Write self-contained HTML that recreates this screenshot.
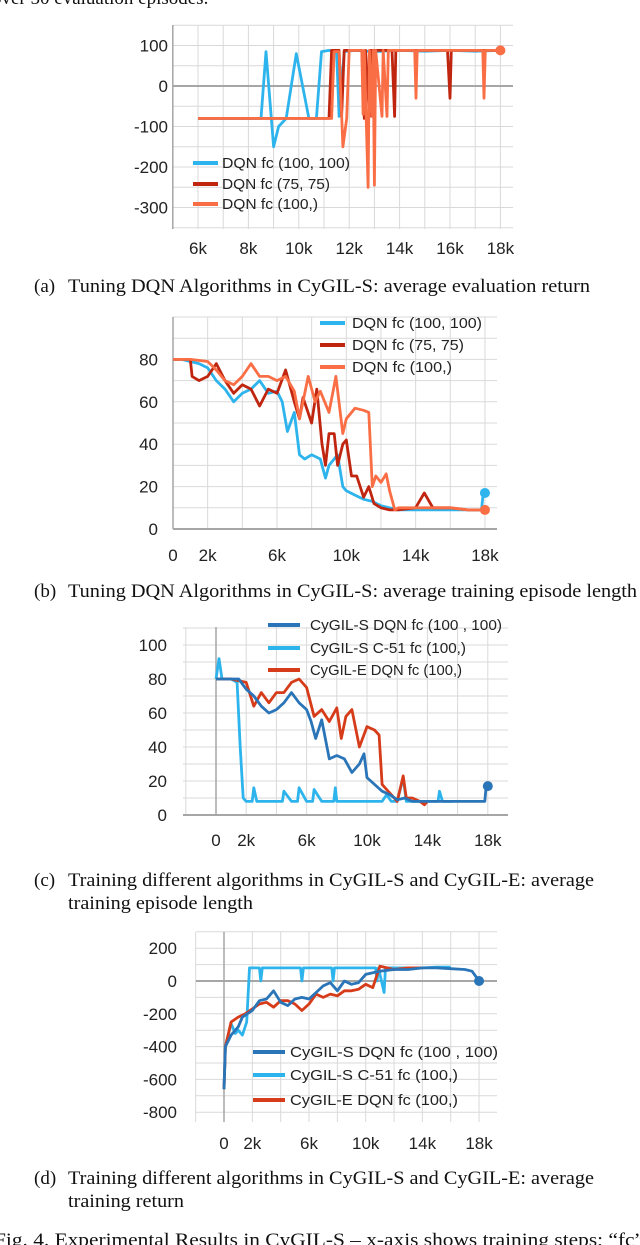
<!DOCTYPE html>
<html><head><meta charset="utf-8">
<style>
html,body{margin:0;padding:0;background:#fff;}
svg{display:block;}
.cap{font-family:"Liberation Serif",serif;font-size:19px;fill:#111;}
.tick{font-family:"Liberation Sans",sans-serif;font-size:17px;fill:#222;}
.leg{font-family:"Liberation Sans",sans-serif;font-size:14.5px;fill:#222;}
</style></head>
<body>
<svg id="fig" width="640" height="1245" viewBox="0 0 640 1245" xmlns="http://www.w3.org/2000/svg">
<text class="cap" x="-8" y="4">over 50 evaluation episodes.</text>
<text class="cap" x="34" y="292">(a)</text>
<text class="cap" x="68" y="292" textLength="522" lengthAdjust="spacingAndGlyphs">Tuning DQN Algorithms in CyGIL-S: average evaluation return</text>
<text class="cap" x="34" y="597">(b)</text>
<text class="cap" x="68" y="597" textLength="569" lengthAdjust="spacingAndGlyphs">Tuning DQN Algorithms in CyGIL-S: average training episode length</text>
<text class="cap" x="34" y="886">(c)</text>
<text class="cap" x="68" y="886" textLength="526" lengthAdjust="spacingAndGlyphs">Training different algorithms in CyGIL-S and CyGIL-E: average</text>
<text class="cap" x="68" y="909" textLength="185" lengthAdjust="spacingAndGlyphs">training episode length</text>
<text class="cap" x="34" y="1184">(d)</text>
<text class="cap" x="68" y="1184" textLength="526" lengthAdjust="spacingAndGlyphs">Training different algorithms in CyGIL-S and CyGIL-E: average</text>
<text class="cap" x="68" y="1207" textLength="116" lengthAdjust="spacingAndGlyphs">training return</text>
<text class="cap" x="-6" y="1246" textLength="650" lengthAdjust="spacingAndGlyphs">Fig. 4.   Experimental Results in CyGIL-S – x-axis shows training steps; “fc”</text>
</svg>
<script>
// ---- Chart (a) data ----
const aBlueX=[6,8.5,8.7,9.0,9.2,9.5,9.9,10.4,10.7,10.9,11.2,11.5,11.6,11.8,12.2,13,14,15,16,17,18];
const aBlueY=[-80,-80,85,-150,-100,-80,80,-80,-80,85,88,85,-75,85,88,85,88,86,88,86,88];
const aRedX=[6,11.2,11.3,11.6,11.7,11.8,12.5,12.6,12.65,12.8,12.85,13.7,13.8,13.85,15.9,16.0,16.05,18];
const aRedY=[-80,-80,88,88,-75,88,88,-80,88,-75,88,88,-75,88,88,-30,88,88];
const aOrX=[6,11.3,11.4,11.6,11.75,11.9,12.0,12.5,12.55,12.6,12.75,12.8,12.9,12.95,13.0,13.05,13.3,13.35,13.5,13.55,14.6,14.65,14.7,17.3,17.35,17.4,18];
const aOrY=[-80,-80,85,85,-150,-80,88,88,-70,88,-250,88,-75,88,-245,88,-75,88,-75,88,88,-30,88,88,-30,88,88];
const aXTicks=[6,8,10,12,14,16,18];
const aXLabels=["6k","8k","10k","12k","14k","16k","18k"];
const aYTicks=[100,0,-100,-200,-300];
// ---- Chart (b) data ----
const bBlueX=[0,0.5,1,1.5,2,2.5,3,3.5,4,4.5,5,5.5,6,6.3,6.6,7,7.3,7.6,8,8.5,8.8,9,9.5,9.8,10,10.5,11,11.5,12,12.5,13,14,15,16,17,17.8,17.9,18];
const bBlueY=[80,80,79,78,76,70,66,60,64,66,70,64,65,60,46,55,35,33,35,33,24,30,35,20,18,16,14,13,11,10,9,9,9,9,9,9,17,17];
const bRedX=[0,1,1.1,1.5,2,2.5,3,3.5,4,4.5,5,5.5,6,6.5,7,7.3,7.5,8,8.3,8.6,8.8,9,9.3,9.5,9.8,10,10.3,10.6,11,11.3,11.6,12,12.5,13,14,14.5,15,16,17,18];
const bRedY=[80,80,72,70,72,78,70,64,68,66,58,66,64,75,60,52,62,50,66,40,30,45,45,30,40,42,25,25,15,20,12,10,9,9,10,17,10,10,9,9];
const bOrX=[0,1,2,2.5,3,3.5,4,4.5,5,5.5,6,6.5,7,7.3,7.8,8.2,8.5,9,9.4,9.8,10,10.5,11,11.3,11.5,11.7,12,12.3,12.5,12.8,13,14,15,16,17,18];
const bOrY=[80,80,79,75,70,68,72,78,72,72,70,72,65,52,72,60,65,55,72,45,52,57,56,55,20,25,22,26,18,9,10,10,10,10,9,9];
const bXTicks=[0,2,6,10,14,18];
const bXLabels=["0","2k","6k","10k","14k","18k"];
const bYTicks=[80,60,40,20,0];
// ---- Chart (c) data ----
const cDkX=[0,1,1.5,2,2.5,3,3.5,4,4.5,5,5.5,6,6.3,6.6,7,7.5,8,8.5,9,9.5,9.8,10,10.5,11,11.5,12,12.5,13,14,15,16,17,17.8,17.9,18];
const cDkY=[80,80,80,74,70,64,60,62,66,72,66,62,55,45,56,33,35,33,25,30,36,22,18,14,12,9,10,8,8,8,8,8,8,18,17];
const cLtX=[0,0.2,0.4,1,1.4,1.6,1.8,2,2.4,2.5,2.7,3,4,4.4,4.5,5,5.4,5.5,6,6.4,6.5,7,7.8,7.9,8,9,10,11,11.3,11.6,12,12.4,12.6,13,14,14.7,14.8,15,15.7];
const cLtY=[80,92,80,80,78,40,10,8,8,16,8,8,8,8,14,8,8,16,8,8,15,8,8,16,8,8,8,8,12,8,8,22,8,8,8,8,14,8,8];
const cRdX=[0,1,2,2.5,3,3.5,4,4.5,5,5.5,6,6.5,7,7.5,8,8.3,8.6,9,9.5,10,10.5,10.8,11,11.3,11.6,12,12.4,12.6,13,13.5,13.8,14];
const cRdY=[80,80,78,64,72,66,72,72,78,80,75,58,62,55,63,45,58,62,40,52,50,47,18,15,12,8,23,10,10,8,6,8];
const cXTicks=[0,2,6,10,14,18];
const cXLabels=["0","2k","6k","10k","14k","18k"];
const cYTicks=[100,80,60,40,20,0];
// ---- Chart (d) data ----
const dDkX=[0,0.1,0.5,1,1.3,2,2.5,3,3.5,4,4.5,5,5.5,6,6.5,7,7.5,8,8.5,9,9.5,10,10.5,11,12,13,14,15,16,17,17.5,18];
const dDkY=[-660,-400,-330,-280,-220,-180,-120,-110,-60,-130,-150,-110,-100,-110,-70,-30,-10,-60,0,-20,-10,40,50,60,70,70,80,80,75,70,60,0];
const dLtX=[0,0.1,0.5,0.8,1,1.3,1.6,1.8,2,2.5,2.6,2.7,4,5.4,5.5,5.6,7.6,7.7,7.8,10.7,10.8,10.9,11.3,11.4,12,13,14,15,16];
const dLtY=[-660,-400,-260,-320,-300,-330,-250,80,80,80,0,80,80,80,0,80,80,0,80,80,0,80,-70,80,80,80,80,85,85];
const dRdX=[0,0.1,0.5,1,1.5,2,2.5,3,3.5,4,4.5,5,5.5,6,6.5,7,7.5,8,8.5,9,9.5,10,10.5,11,11.5,12,13,14];
const dRdY=[-660,-400,-250,-220,-200,-170,-140,-130,-160,-120,-120,-140,-180,-140,-80,-100,-80,-90,-60,-60,-50,-20,-40,90,80,70,80,80];
const dXTicks=[0,2,6,10,14,18];
const dXLabels=["0","2k","6k","10k","14k","18k"];
const dYTicks=[200,0,-200,-400,-600,-800];

const NS="http://www.w3.org/2000/svg";
const svg=document.getElementById('fig');
function mk(tag,attrs,parent){const e=document.createElementNS(NS,tag);for(const k in attrs)e.setAttribute(k,attrs[k]);(parent||svg).appendChild(e);return e;}

function chart(c){
  const g=mk('g',{});
  
  
  const X=v=>c.x0px+(v-c.x0)*c.xs;
  const Y=v=>c.y0px-(v-c.y0)*c.ys;
  for(let v=c.gyMin;v<=c.gyMax+1e-9;v+=c.gyStep){
    const l=mk('line',{x1:c.L,x2:c.R,y1:Y(v),y2:Y(v),stroke:'#d9d9d9','stroke-width':1},g);
    
    
  }
  for(let v=c.gxMin;v<=c.gxMax+1e-9;v+=c.gxStep){
    const l=mk('line',{x1:X(v),x2:X(v),y1:c.T,y2:c.B,stroke:'#d9d9d9','stroke-width':1},g);
    
    
  }
  const ax=mk('line',{x1:c.L,x2:c.R,y1:Y(0),y2:Y(0),stroke:'#a6a6a6','stroke-width':2},g);
  
  
  const ay=mk('line',{x1:X(c.yAxisAt),x2:X(c.yAxisAt),y1:c.T,y2:c.B,stroke:'#a6a6a6','stroke-width':1.5},g);
  
  
  c.xt.forEach((v,i)=>{const t=mk('text',{x:X(v),y:c.xLabY,'text-anchor':'middle',class:'tick'},g);t.textContent=c.xl[i];
    
    });
  c.yt.forEach(v=>{const t=mk('text',{x:c.yLabX,y:Y(v)+6,'text-anchor':'end',class:'tick'},g);t.textContent=String(v);
    
    });
  c.series.forEach(s=>{
    const d=s.x.map((v,i)=>(i?'L':'M')+X(v).toFixed(1)+','+Y(s.y[i]).toFixed(1)).join(' ');
    const p=mk('path',{d:d,fill:'none',stroke:s.color,'stroke-width':2.8,'stroke-linejoin':'round'},g);
    
    
    if(s.dot){const n=s.x.length-1;const ci=mk('circle',{cx:X(s.x[n]),cy:Y(s.y[n]),r:5,fill:s.color},g);
      
      }
  });
  c.legend.forEach((e,i)=>{
    const y=c.legY[i];
    const l=mk('line',{x1:c.legX1,x2:c.legX2,y1:y,y2:y,stroke:e.color,'stroke-width':4},g);
    
    
    const t=mk('text',{x:c.legTX,y:y+5,class:'leg',textLength:e.w,lengthAdjust:'spacingAndGlyphs'},g);t.textContent=e.label;
    
    
  });
}
const LB='#2eb4ec',DR='#c0260f',OR='#fa6e45',DB='#2a74b8',RD='#d63c1a';
chart({name:'chart-a',L:173,R:513,T:25,B:229,x0:6,x0px:198,xs:25.2,y0:0,y0px:86,ys:0.405,
  gyMin:-350,gyMax:150,gyStep:50,gxMin:5,gxMax:18,gxStep:1,yAxisAt:5,
  xt:aXTicks,xl:aXLabels,yt:aYTicks,xLabY:254,yLabX:168,
  series:[{name:'series-dqn-100-100',x:aBlueX,y:aBlueY,color:LB},{name:'series-dqn-75-75',x:aRedX,y:aRedY,color:DR},{name:'series-dqn-100',x:aOrX,y:aOrY,color:OR,dot:true}],
  legend:[{label:'DQN fc (100, 100)',color:LB,w:128},{label:'DQN fc (75, 75)',color:DR,w:108},{label:'DQN fc (100,)',color:OR,w:96}],
  legY:[163,184,204],legX1:193,legX2:218,legTX:222});
chart({name:'chart-b',L:173,R:497,T:317,B:529,x0:0,x0px:173,xs:17.33,y0:0,y0px:529,ys:2.12,
  gyMin:0,gyMax:100,gyStep:10,gxMin:0,gxMax:18,gxStep:2,yAxisAt:0,
  xt:bXTicks,xl:bXLabels,yt:bYTicks,xLabY:561,yLabX:158,
  series:[{name:'series-dqn-100-100',x:bBlueX,y:bBlueY,color:LB,dot:true},{name:'series-dqn-75-75',x:bRedX,y:bRedY,color:DR},{name:'series-dqn-100',x:bOrX,y:bOrY,color:OR,dot:true}],
  legend:[{label:'DQN fc (100, 100)',color:LB,w:130},{label:'DQN fc (75, 75)',color:DR,w:112},{label:'DQN fc (100,)',color:OR,w:100}],
  legY:[323,345,367],legX1:320,legX2:345,legTX:352});
chart({name:'chart-c',L:183,R:508,T:627,B:815,x0:0,x0px:216,xs:15.1,y0:0,y0px:815,ys:1.7,
  gyMin:0,gyMax:110,gyStep:10,gxMin:-2,gxMax:18,gxStep:2,yAxisAt:0,
  xt:cXTicks,xl:cXLabels,yt:cYTicks,xLabY:846,yLabX:167,
  series:[{name:'series-s-c51',x:cLtX,y:cLtY,color:LB},{name:'series-e-dqn',x:cRdX,y:cRdY,color:RD},{name:'series-s-dqn',x:cDkX,y:cDkY,color:DB,dot:true}],
  legend:[{label:'CyGIL-S DQN fc (100 , 100)',color:DB,w:192},{label:'CyGIL-S C-51 fc (100,)',color:LB,w:156},{label:'CyGIL-E DQN fc (100,)',color:RD,w:152}],
  legY:[625,648,670],legX1:268,legX2:300,legTX:310});
chart({name:'chart-d',L:196,R:497,T:932,B:1122,x0:0,x0px:224,xs:14.17,y0:0,y0px:981,ys:0.164,
  gyMin:-800,gyMax:300,gyStep:100,gxMin:-2,gxMax:18,gxStep:2,yAxisAt:0,
  xt:dXTicks,xl:dXLabels,yt:dYTicks,xLabY:1149,yLabX:177,
  series:[{name:'series-s-c51',x:dLtX,y:dLtY,color:LB},{name:'series-e-dqn',x:dRdX,y:dRdY,color:RD},{name:'series-s-dqn',x:dDkX,y:dDkY,color:DB,dot:true}],
  legend:[{label:'CyGIL-S DQN fc (100 , 100)',color:DB,w:208},{label:'CyGIL-S C-51 fc (100,)',color:LB,w:168},{label:'CyGIL-E DQN fc (100,)',color:RD,w:168}],
  legY:[1052,1075,1100],legX1:253,legX2:285,legTX:290});
</script>
</body></html>
